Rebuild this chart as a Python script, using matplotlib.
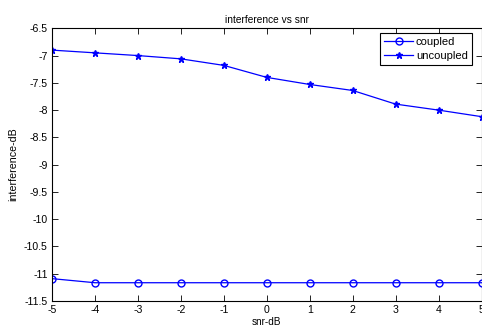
import numpy as np
import matplotlib.pyplot as plt

plt.rcParams['font.family'] = ['Liberation Sans', 'DejaVu Sans']
plt.rcParams['font.size'] = 7

snr = [-5, -4, -3, -2, -1, 0, 1, 2, 3, 4, 5]
coupled = [-11.09, -11.165, -11.165, -11.165, -11.165, -11.165, -11.165, -11.165, -11.165, -11.165, -11.165]
uncoupled = [-6.90, -6.95, -7.00, -7.06, -7.18, -7.40, -7.53, -7.64, -7.89, -8.00, -8.12]

xticks = np.arange(-5, 6, 1)
yticks = np.arange(-11.5, -6.4, 0.5)

fig = plt.figure(figsize=(4.82, 3.27), dpi=100)
ax = fig.add_axes([52 / 482, 1 - 301 / 327, 429.5 / 482, (301 - 28.3) / 327])

ax.plot(snr, coupled, '-o', color='blue', lw=0.9, ms=5, mfc='none', mew=1, label='coupled')
ax.plot(snr, uncoupled, '-*', color='blue', lw=0.9, ms=4.5, label='uncoupled')

ax.set_xlim(-5, 5)
ax.set_ylim(-11.5, -6.5)
ax.set_xticks(xticks)
ax.set_xticklabels([str(v) for v in xticks])
ax.set_yticks(yticks)
ax.set_yticklabels([('%g' % v) for v in yticks])
ax.tick_params(direction='in', top=True, right=True, length=4, width=0.6, pad=3, labelsize=7.6)
for s in ax.spines.values():
    s.set_linewidth(0.8)

ax.set_xlabel('snr-dB', labelpad=1, fontsize=7.2)
ax.set_ylabel('interference-dB', labelpad=4, fontsize=7.7)
ax.set_title('interference vs snr', pad=4, fontsize=7.3)

leg = ax.legend(loc='upper right', bbox_to_anchor=(0.982, 0.99), fancybox=False, edgecolor='black',
                framealpha=1, fontsize=8, handlelength=2.6, borderpad=0.35, labelspacing=0.35,
                handletextpad=0.25, borderaxespad=0.2)
leg.get_frame().set_linewidth(0.8)

fig.savefig('out.png', dpi=100)
